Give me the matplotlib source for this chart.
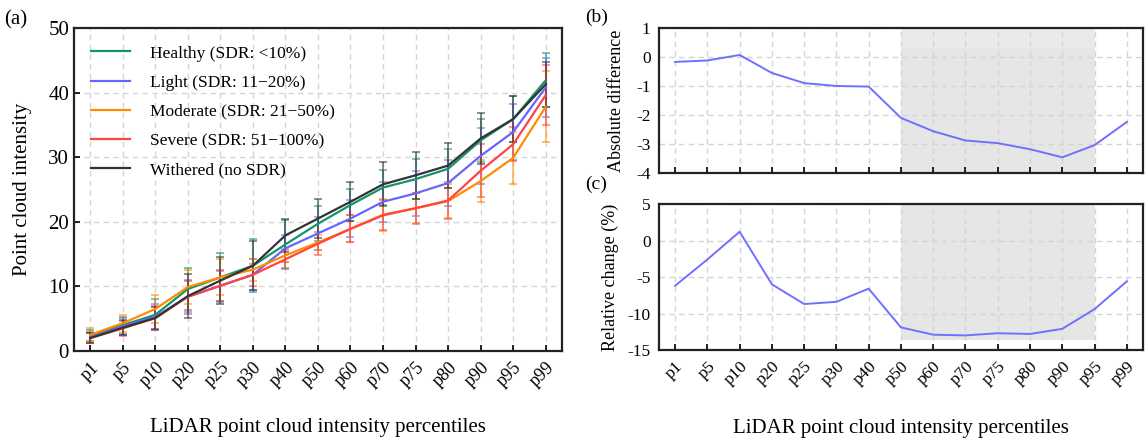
import numpy as np
import matplotlib
matplotlib.use('Agg')
import matplotlib.pyplot as plt

plt.rcParams['font.family'] = ['Liberation Serif', 'DejaVu Serif']
plt.rcParams['axes.unicode_minus'] = False

pcts = ['p1', 'p5', 'p10', 'p20', 'p25', 'p30', 'p40', 'p50', 'p60', 'p70', 'p75', 'p80', 'p90', 'p95', 'p99']

# panel (a) means and std per class
healthy = [2.4, 4.0, 5.6, 9.6, 11.4, 13.2, 16.5, 19.7, 22.6, 25.3, 26.6, 28.2, 32.6, 35.9, 41.9]
healthy_sd = [0.9, 1.3, 2.4, 3.3, 3.8, 4.1, 3.8, 2.7, 2.4, 2.7, 3.1, 3.0, 3.3, 3.5, 4.2]
light = [2.1, 3.8, 5.3, 8.4, 10.1, 11.8, 15.9, 18.2, 20.5, 23.1, 24.4, 26.0, 30.2, 33.9, 40.8]
light_sd = [0.8, 1.3, 2.0, 2.6, 2.4, 2.4, 2.1, 2.5, 2.8, 3.1, 3.5, 3.6, 4.3, 4.3, 4.6]
moderate = [2.5, 4.3, 6.5, 9.9, 11.4, 12.6, 14.8, 16.8, 18.9, 21.1, 22.1, 23.2, 26.3, 29.9, 37.8]
moderate_sd = [1.0, 1.3, 2.2, 2.6, 2.8, 1.7, 1.0, 1.2, 2.1, 2.5, 2.3, 2.6, 3.2, 4.0, 5.5]
severe = [2.0, 3.5, 5.1, 8.4, 10.1, 11.8, 14.2, 16.6, 18.9, 21.0, 22.1, 23.3, 27.9, 32.0, 39.6]
severe_sd = [0.8, 1.2, 1.8, 2.4, 2.3, 1.7, 1.4, 1.8, 2.1, 2.3, 2.4, 2.8, 4.1, 2.6, 4.6]
withered = [2.0, 3.6, 5.1, 8.5, 10.9, 13.2, 17.9, 20.5, 23.1, 25.8, 27.2, 28.7, 32.9, 35.9, 41.3]
withered_sd = [0.8, 1.2, 1.7, 3.4, 3.7, 3.8, 2.6, 3.0, 3.0, 3.4, 3.6, 3.5, 3.9, 3.5, 3.5]

# panels (b) and (c)
abs_diff = [-0.17, -0.12, 0.07, -0.55, -0.90, -1.00, -1.02, -2.10, -2.56, -2.88, -2.97, -3.18, -3.46, -3.04, -2.24]
rel_change = [-6.2, -2.6, 1.2, -6.0, -8.7, -8.4, -6.6, -11.9, -12.9, -13.0, -12.7, -12.8, -12.1, -9.4, -5.6]

series = [
    ('Healthy (SDR: <10%)', healthy, healthy_sd, '#13946a'),
    ('Light (SDR: 11\u221220%)', light, light_sd, '#6666ff'),
    ('Moderate (SDR: 21\u221250%)', moderate, moderate_sd, '#ff8c00'),
    ('Severe (SDR: 51\u2212100%)', severe, severe_sd, '#ff4444'),
    ('Withered (no SDR)', withered, withered_sd, '#333333'),
]

x = np.arange(len(pcts))
fig = plt.figure(figsize=(11.45, 4.43), dpi=100)

ax1 = fig.add_axes([0.0646, 0.2077, 0.4262, 0.7291])
ax2 = fig.add_axes([0.5755, 0.6095, 0.4227, 0.3273])
ax3 = fig.add_axes([0.5755, 0.2099, 0.4227, 0.3296])

def style(ax):
    ax.grid(True, ls=(0, (4, 3)), color='#d5d5d5', lw=1)
    ax.set_axisbelow(True)
    for s in ax.spines.values():
        s.set_linewidth(1.6)
        s.set_color('#222222')
    ax.tick_params(direction='in', length=4, width=1.2)
    ax.set_xlim(-0.5, len(pcts) - 0.5)
    ax.set_xticks(x)

# (a)
style(ax1)
for name, m, sd, c in series:
    ax1.errorbar(x, m, yerr=sd, fmt='none', ecolor=c, elinewidth=1.1, capsize=3, capthick=1.1,
                 alpha=0.7, zorder=2)
for name, m, sd, c in series:
    ax1.plot(x, m, color=c, lw=1.6, label=name, zorder=3)
ax1.set_ylim(0, 50)
ax1.set_yticks([0, 10, 20, 30, 40, 50])
ax1.set_xticklabels(pcts, rotation=45, ha='right', rotation_mode='anchor', fontsize=13)
ax1.tick_params(axis='y', labelsize=15)
ax1.tick_params(axis='x', pad=6)
ax1.set_ylabel('Point cloud intensity', fontsize=15, labelpad=12)
ax1.set_xlabel('LiDAR point cloud intensity percentiles', fontsize=15, labelpad=20)
ax1.legend(loc='upper left', frameon=False, fontsize=12.5,
           handlelength=2.2, handletextpad=1.2, labelspacing=0.75, borderaxespad=0.6)
fig.text(0.004, 0.955, '(a)', fontsize=15, va='center')

# (b)
style(ax2)
ax2.fill_between([7, 13], -4, 0.3, color='#e6e6e6', lw=0, zorder=0)
ax2.fill_between([7, 13], 0.3, 1, color='#eaeaea', lw=0, zorder=0)
ax2.plot(x, abs_diff, color='#7070ff', lw=1.4)
ax2.set_ylim(-4, 1)
ax2.set_yticks([1, 0, -1, -2, -3, -4])
ax2.set_xticklabels([])
ax2.tick_params(axis='y', labelsize=12.5, length=0, pad=6)
ax2.set_ylabel('Absolute difference', fontsize=13, labelpad=8)
fig.text(0.511, 0.96, '(b)', fontsize=14, va='center')

# (c)
style(ax3)
ax3.fill_between([7, 13], -13.6, 5, color='#e6e6e6', lw=0, zorder=0)
ax3.plot(x, rel_change, color='#7070ff', lw=1.4)
ax3.set_ylim(-15, 5)
ax3.set_yticks([5, 0, -5, -10, -15])
ax3.set_xticklabels(pcts, rotation=45, ha='right', rotation_mode='anchor', fontsize=12.5)
ax3.tick_params(axis='y', labelsize=12.5, length=0, pad=6)
ax3.tick_params(axis='x', pad=6)
ax3.set_ylabel('Relative change (%)', fontsize=13, labelpad=6)
ax3.set_xlabel('LiDAR point cloud intensity percentiles', fontsize=15, labelpad=22)
fig.text(0.511, 0.585, '(c)', fontsize=14, va='center')

fig.savefig('out.png', dpi=100)
